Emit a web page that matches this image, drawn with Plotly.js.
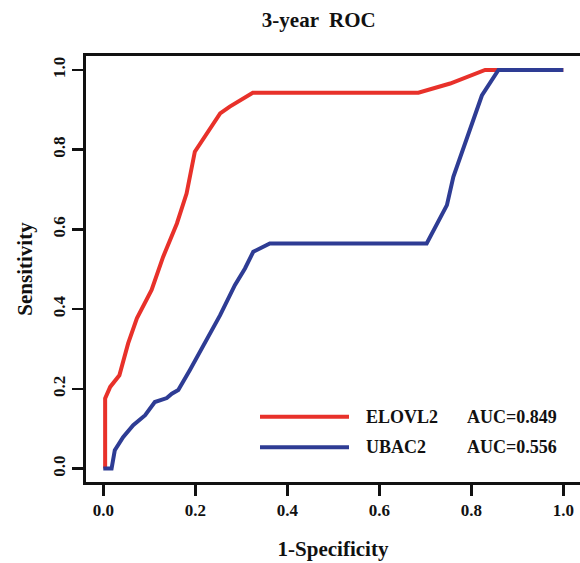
<!DOCTYPE html>
<html>
<head>
<meta charset="utf-8">
<script src="https://cdn.plot.ly/plotly-3.0.1.min.js"></script>
<style>html,body{margin:0;padding:0;background:#fff;}#chart{width:580px;height:563px;}</style>
</head>
<body>
<div id="chart"></div>
<script>
// ELOVL2 ROC curve (1-Specificity, Sensitivity)
var elovl2FPR = [0.004, 0.004, 0.015, 0.035, 0.054, 0.073, 0.105, 0.130, 0.160, 0.181, 0.199, 0.221, 0.254, 0.275, 0.325, 0.685, 0.754, 0.830, 0.860, 1.0];
var elovl2TPR = [0.000, 0.176, 0.205, 0.234, 0.314, 0.377, 0.448, 0.531, 0.615, 0.690, 0.795, 0.833, 0.891, 0.908, 0.943, 0.943, 0.966, 1.000, 1.000, 1.0];
// UBAC2 ROC curve
var ubac2FPR = [0.000, 0.018, 0.025, 0.043, 0.065, 0.091, 0.112, 0.138, 0.149, 0.163, 0.188, 0.221, 0.254, 0.286, 0.308, 0.326, 0.362, 0.703, 0.725, 0.747, 0.761, 0.783, 0.804, 0.823, 0.859, 1.0];
var ubac2TPR = [0.000, 0.000, 0.046, 0.079, 0.109, 0.134, 0.167, 0.177, 0.188, 0.197, 0.247, 0.314, 0.385, 0.460, 0.502, 0.544, 0.565, 0.565, 0.615, 0.661, 0.732, 0.807, 0.879, 0.936, 1.000, 1.0];
var seriesNames = ["ELOVL2", "UBAC2"];
var aucLabels = ["AUC=0.849", "AUC=0.556"];
var tickVals = [0, 0.2, 0.4, 0.6, 0.8, 1.0];
var tickText = ["0.0", "0.2", "0.4", "0.6", "0.8", "1.0"];

var RED = "#e8312a", BLUE = "#2e3c94";
var FONT = "Liberation Serif, Times New Roman, serif";

var traces = [
  {x: elovl2FPR, y: elovl2TPR, mode: "lines", name: seriesNames[0], line: {color: RED, width: 4}},
  {x: ubac2FPR, y: ubac2TPR, mode: "lines", name: seriesNames[1], line: {color: BLUE, width: 4}}
];

// legend geometry in paper coords (plot area: left 86, top 56, width 494, height 426)
function px2x(p){ return (p - 86) / 494; }
function py2y(p){ return (482 - p) / 426; }
var legRows = [416.7, 447.3];
var colors = [RED, BLUE];
var shapes = [], annotations = [];
for (var i = 0; i < 2; i++) {
  shapes.push({type: "line", xref: "paper", yref: "paper", x0: px2x(260), x1: px2x(349), y0: py2y(legRows[i]), y1: py2y(legRows[i]), line: {color: colors[i], width: 4}});
  annotations.push({xref: "paper", yref: "paper", x: px2x(364), y: py2y(legRows[i]), xanchor: "left", yanchor: "middle", showarrow: false, text: "<b>" + seriesNames[i] + "</b>", font: {family: FONT, size: 18, color: "#111"}});
  annotations.push({xref: "paper", yref: "paper", x: px2x(464.5), y: py2y(legRows[i]), xanchor: "left", yanchor: "middle", showarrow: false, text: "<b>" + aucLabels[i] + "</b>", font: {family: FONT, size: 18, color: "#111"}});
}

var layout = {
  width: 580, height: 563,
  paper_bgcolor: "#fff", plot_bgcolor: "#fff",
  margin: {l: 86, r: 0, t: 56, b: 81},
  showlegend: false,
  font: {family: FONT, color: "#111"},
  title: {text: "<b>3-year  ROC</b>", font: {family: FONT, size: 21, color: "#111"}, xref: "container", x: 0.5497, xanchor: "center", yref: "container", y: 0.965, yanchor: "middle"},
  xaxis: {
    range: [-0.0376, 1.0363], tickvals: tickVals, ticktext: tickText,
    ticks: "outside", ticklen: 11, tickwidth: 2.5, tickcolor: "#111",
    showline: true, linecolor: "#111", linewidth: 3, mirror: true,
    showgrid: false, zeroline: false,
    tickfont: {family: FONT, size: 17, color: "#111", weight: "bold"},
    title: {text: "<b>1-Specificity</b>", font: {family: FONT, size: 21, color: "#111"}, standoff: 22}
  },
  yaxis: {
    range: [-0.0336, 1.0351], tickvals: tickVals, ticktext: tickText,
    ticks: "outside", ticklen: 11, tickwidth: 2.5, tickcolor: "#111",
    showline: true, linecolor: "#111", linewidth: 3, mirror: false,
    showgrid: false, zeroline: false, tickangle: -90,
    tickfont: {family: FONT, size: 17, color: "#111", weight: "bold"},
    title: {text: "<b>Sensitivity</b>", font: {family: FONT, size: 21, color: "#111"}, standoff: 12}
  },
  shapes: shapes,
  annotations: annotations
};

Plotly.newPlot("chart", traces, layout, {displayModeBar: false, staticPlot: true});
</script>
</body>
</html>
